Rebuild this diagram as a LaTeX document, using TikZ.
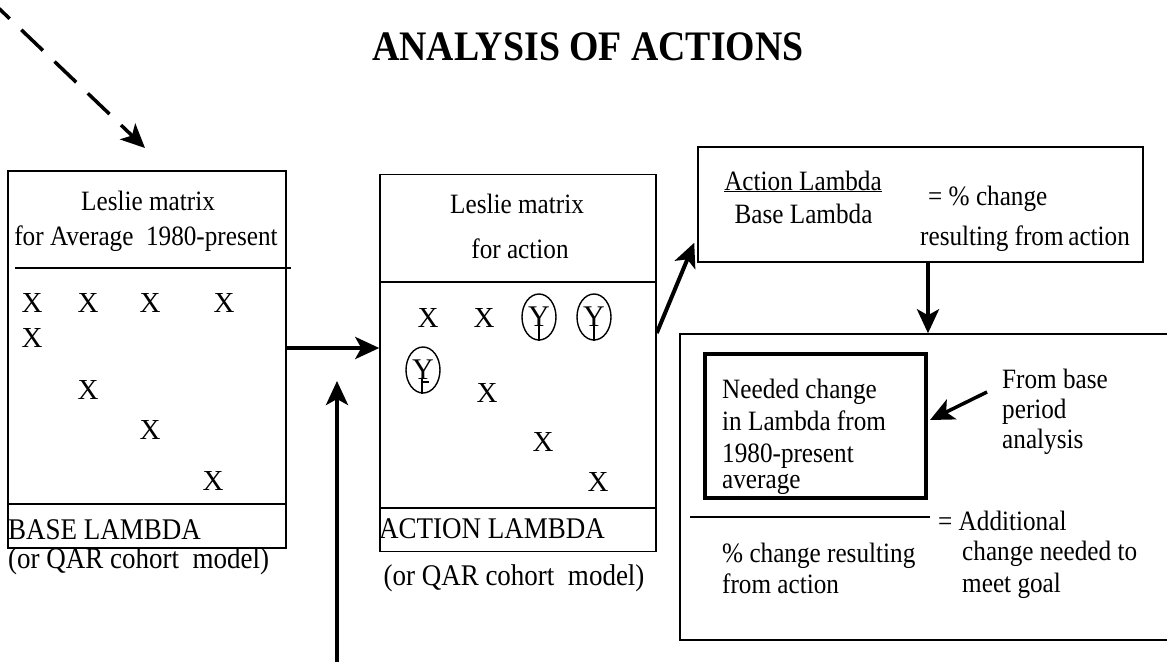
\documentclass[tikz,border=0pt]{standalone}
\usepackage{fontspec}
\setmainfont{Liberation Serif}[FakeStretch=0.9]
\newfontfamily\widefont{Liberation Serif}
\usetikzlibrary{arrows.meta}
\usetikzlibrary{shapes.geometric}
\usetikzlibrary{calc}
\tikzset{t/.style={inner sep=0pt, font=\fontsize{28}{28}\selectfont}}
\tikzset{lab/.style={inner sep=0pt, font=\fontsize{30}{30}\selectfont}}
\tikzset{xm/.style={inner sep=0pt, font=\widefont\fontsize{29}{29}\selectfont}}
\tikzset{
box/.style={draw, line width=1.5pt, inner sep=0pt}, rule/.style={line width=2.2pt},
flow/.style={line width=4pt, -{Stealth[length=24pt, width=22pt, inset=6pt]}}, dflow/.style={flow, line width=3.5pt, dash pattern=on 30pt off 16pt},
ring/.style={draw, ellipse, line width=1.4pt, inner sep=0pt, minimum width=34pt, minimum height=46pt, font=\widefont\fontsize{30}{30}\selectfont}
}

\begin{document}
\begin{tikzpicture}[x=1pt, y=-1pt]
    \useasboundingbox (0,0) rectangle (1167,666);
    \node [inner sep=0pt, anchor=base, font=\bfseries\fontsize{42}{42}\selectfont] (title) at (588,61) {ANALYSIS OF ACTIONS};
    \coordinate (dstart) at (-12,-2);
    \coordinate (dend) at (145,148);
    \draw[dflow] (dstart) -- (dend);
    % base period matrix
    \node [box, minimum width=278pt, minimum height=377pt] (base) at (147,359.5) {};
    \node [t, anchor=base] (bt1) at (148,210) {Leslie matrix};
    \node [t, anchor=base] (bt2) at (146,245) {for Average\ \ 1980-present};
    \draw[rule] (15,268) -- (291,268);
    \node [xm] (bx1) at (32,303) {X};
    \node [xm] (bx2) at (88,303) {X};
    \node [xm] (bx3) at (150,303) {X};
    \node [xm] (bx4) at (224,303) {X};
    \node [xm] (bx5) at (32,338) {X};
    \node [xm] (bx6) at (88,390) {X};
    \node [xm] (bx7) at (150,430) {X};
    \node [xm] (bx8) at (213,481) {X};
    \draw[box] (base.west |- 0,504) -- (base.east |- 0,504);
    \node [lab, anchor=base west] (bl) at (8,539) {BASE LAMBDA};
    \node [lab, anchor=base west] (bq) at (8,568) {(or QAR cohort\ \ model)};
    % action matrix
    \node [box, minimum width=276pt, minimum height=377pt] (act) at (518,363) {};
    \node [t, anchor=base] (at1) at (517,213) {Leslie matrix};
    \node [t, anchor=base] (at2) at (520,258) {for action};
    \draw[box] (act.west |- 0,282) -- (act.east |- 0,282);
    \node [xm] (ax1) at (428,318) {X};
    \node [xm] (ax2) at (484,318) {X};
    \node [ring] (ay1) at (539,317) {Y};
    \node [ring] (ay2) at (594,317) {Y};
    \node [ring] (ay3) at (423,370) {Y};
    \draw[line width=1.3pt] ($(ay1.center)+(0,9)$) -- (ay1.south);
    \draw[line width=1.3pt] ($(ay2.center)+(0,9)$) -- (ay2.south);
    \draw[line width=1.3pt] ($(ay3.center)+(-1,9)$) -- ($(ay3.south)+(-1,0)$) ($(ay3.center)+(-1,12)$) -- ++(7,0);
    \node [xm] (ax3) at (487,393) {X};
    \node [xm] (ax4) at (543,442) {X};
    \node [xm] (ax5) at (598,482) {X};
    \draw[box] (act.west |- 0,508) -- (act.east |- 0,508);
    \node [lab, anchor=base west] (al) at (379,538) {ACTION LAMBDA};
    \node [lab, anchor=base] (aq) at (514,585) {(or QAR cohort\ \ model)};
    \draw[flow] (base.east |- 0,348) -- (act.west |- 0,348);
    \coordinate (feed) at (337,662);
    \coordinate (feedtip) at (337,381);
    \draw[flow] (feed) -- (feedtip);
    % ratio of lambdas
    \node [box, minimum width=445pt, minimum height=115pt] (ratio) at (920.5,204.5) {};
    \node [t, anchor=base] (rt1) at (803,190) {\underline{Action Lambda}};
    \node [t, anchor=base] (rt2) at (803.5,223) {Base Lambda};
    \node [t, anchor=base west] (rt3) at (928,205) {= \% change};
    \node [t, anchor=base west] (rt4) at (920,245) {resulting from\,action};
    \draw[flow] (act.east |- 0,333) -- ($(ratio.south west)+(-3,-20)$);
    % goal
    \node [box, minimum width=500pt, minimum height=306pt] (goal) at (930,487) {};
    \node [draw, line width=4pt, inner sep=0pt, minimum width=221pt, minimum height=144pt] (need) at (815.5,426) {};
    \draw[flow] (ratio.south -| need.east) -- (goal.north -| need.east);
    \node [t, anchor=base west] (n1) at (722,398) {Needed change};
    \node [t, anchor=base west] (n2) at (722,430) {in Lambda from};
    \node [t, anchor=base west] (n3) at (722,462) {1980-present};
    \node [t, anchor=base west] (n4) at (722,488) {average};
    \node [t, anchor=base west] (f1) at (1002,388) {From base};
    \node [t, anchor=base west] (f2) at (1002,418) {period};
    \node [t, anchor=base west] (f3) at (1002,448) {analysis};
    \coordinate (fbtail) at (987,392);
    \draw[flow, line width=3.5pt] (fbtail) -- ($(need.east)+(2,-6)$);
    \draw[rule] (690,517) -- (930,517);
    \node [t, anchor=base west] (e1) at (938,530) {= Additional};
    \node [t, anchor=base west] (e2) at (962,560) {change needed to};
    \node [t, anchor=base west] (e3) at (962,592) {meet goal};
    \node [t, anchor=base west] (p1) at (722,562) {\% change resulting};
    \node [t, anchor=base west] (p2) at (722,593) {from action};
  \end{tikzpicture}
\end{document}
